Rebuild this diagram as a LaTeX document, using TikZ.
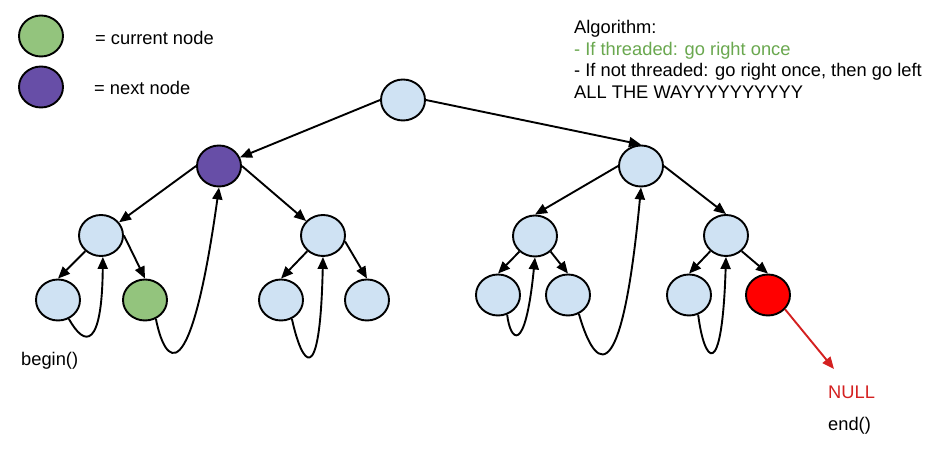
\documentclass[tikz,border=0pt]{standalone}
\usepackage{fontspec}
\setmainfont{Liberation Sans}
\usetikzlibrary{shapes.geometric,arrows.meta}

\definecolor{tblue}{HTML}{CFE2F3}
\definecolor{tgreen}{HTML}{93C47D}
\definecolor{tpurple}{HTML}{674EA7}
\definecolor{tred}{HTML}{FF0000}
\definecolor{txtgreen}{HTML}{6AA84F}
\definecolor{nullred}{HTML}{D42020}

\tikzset{
  tnode/.style={ellipse, draw=black, line width=1.9bp, minimum width=44bp,
                minimum height=41bp, inner sep=0pt, fill=tblue},
  cur/.style={tnode, fill=tgreen},
  nxt/.style={tnode, fill=tpurple},
  last/.style={tnode, fill=tred},
  link/.style={draw=black, line width=1.9bp, -{Triangle[length=12bp,width=10bp]}},
  nulllink/.style={draw=nullred, line width=1.9bp, -{Triangle[length=12bp,width=10bp]}},
  lbl/.style={anchor=base west, inner sep=0pt, font=\fontsize{18.3bp}{22bp}\selectfont}
}

\begin{document}
\begin{tikzpicture}[x=1bp, y=-1bp]
  \useasboundingbox[fill=white] (0,0) rectangle (941,461);

  % legend
  \node[cur] (keycur) at (41,36) {};
  \node[nxt] (keynxt) at (41,87) {};
  \node[lbl] (keycurtxt) at (95,45) {= current node};
  \node[lbl] (keynxttxt) at (94,95) {= next node};

  % algorithm notes
  \node[lbl] (alg1) at (574,34) {Algorithm:};
  \node[lbl, text=txtgreen] (alg2) at (574,55.5) {- If threaded: go right once};
  \node[lbl] (alg3) at (574,77) {- If not threaded: go right once, then go left};
  \node[lbl] (alg4) at (574,98.5) {ALL THE WAYYYYYYYYYY};

  % tree nodes
  \node[tnode] (root) at (403,100) {};
  \node[nxt]   (l)    at (219,166) {};
  \node[tnode] (r)    at (641,166) {};
  \node[tnode] (ll)   at (101,235.5) {};
  \node[tnode] (lr)   at (323,235.5) {};
  \node[tnode] (rl)   at (535,236) {};
  \node[tnode] (rr)   at (726,235.5) {};
  \node[tnode] (lll)  at (58,300) {};
  \node[cur]   (llr)  at (145,300) {};
  \node[tnode] (lrl)  at (281,300) {};
  \node[tnode] (lrr)  at (367,300) {};
  \node[tnode] (rll)  at (498,295) {};
  \node[tnode] (rlr)  at (568,295) {};
  \node[tnode] (rrl)  at (689,295) {};
  \node[last]  (rrr)  at (768,295) {};

  % child links
  \draw[link] (root.west) -- (l);
  \draw[link] (root.east) -- (r.north);
  \draw[link] (l.west) -- (ll);
  \draw[link] (l.east) -- (lr);
  \draw[link] (r.west) -- (rl.north);
  \draw[link] (r.east) -- (rr.north);
  \draw[link] (ll.-135) -- (lll.north);
  \draw[link] (ll.east) -- (llr.north);
  \draw[link] (lr.-135) -- (lrl.north);
  \draw[link] (lr.-15) -- (lrr.north);
  \draw[link] (rl.-135) -- (rll.north);
  \draw[link] (rl.-45) -- (rlr.north);
  \draw[link] (rr.-135) -- (rrl.north);
  \draw[link] (rr.-45) -- (rrr.north);

  % thread links back up the tree
  \draw[link] (lll.-60) .. controls (85,348) and (102,348) .. (ll.-85);
  \draw[link] (llr.-60) .. controls (165,365) and (190,395) .. (l.south);
  \draw[link] (lrl.-60) .. controls (302,365) and (320,392) .. (lr.south);
  \draw[link] (rll.-65) .. controls (510,340) and (525,358) .. (rl.south);
  \draw[link] (rlr.-60) .. controls (592,360) and (620,410) .. (r.south);
  \draw[link] (rrl.-65) .. controls (704,362) and (722,385) .. (rr.south);

  % past the last node
  \coordinate (nullpt) at (834,369);
  \draw[nulllink] (rrr.-40) -- (nullpt);

  \node[lbl, text=nullred] (nulltxt) at (828,398) {NULL};
  \node[lbl] (endtxt) at (828,430) {end()};
  \node[lbl] (begintxt) at (21,366) {begin()};
\end{tikzpicture}
\end{document}
